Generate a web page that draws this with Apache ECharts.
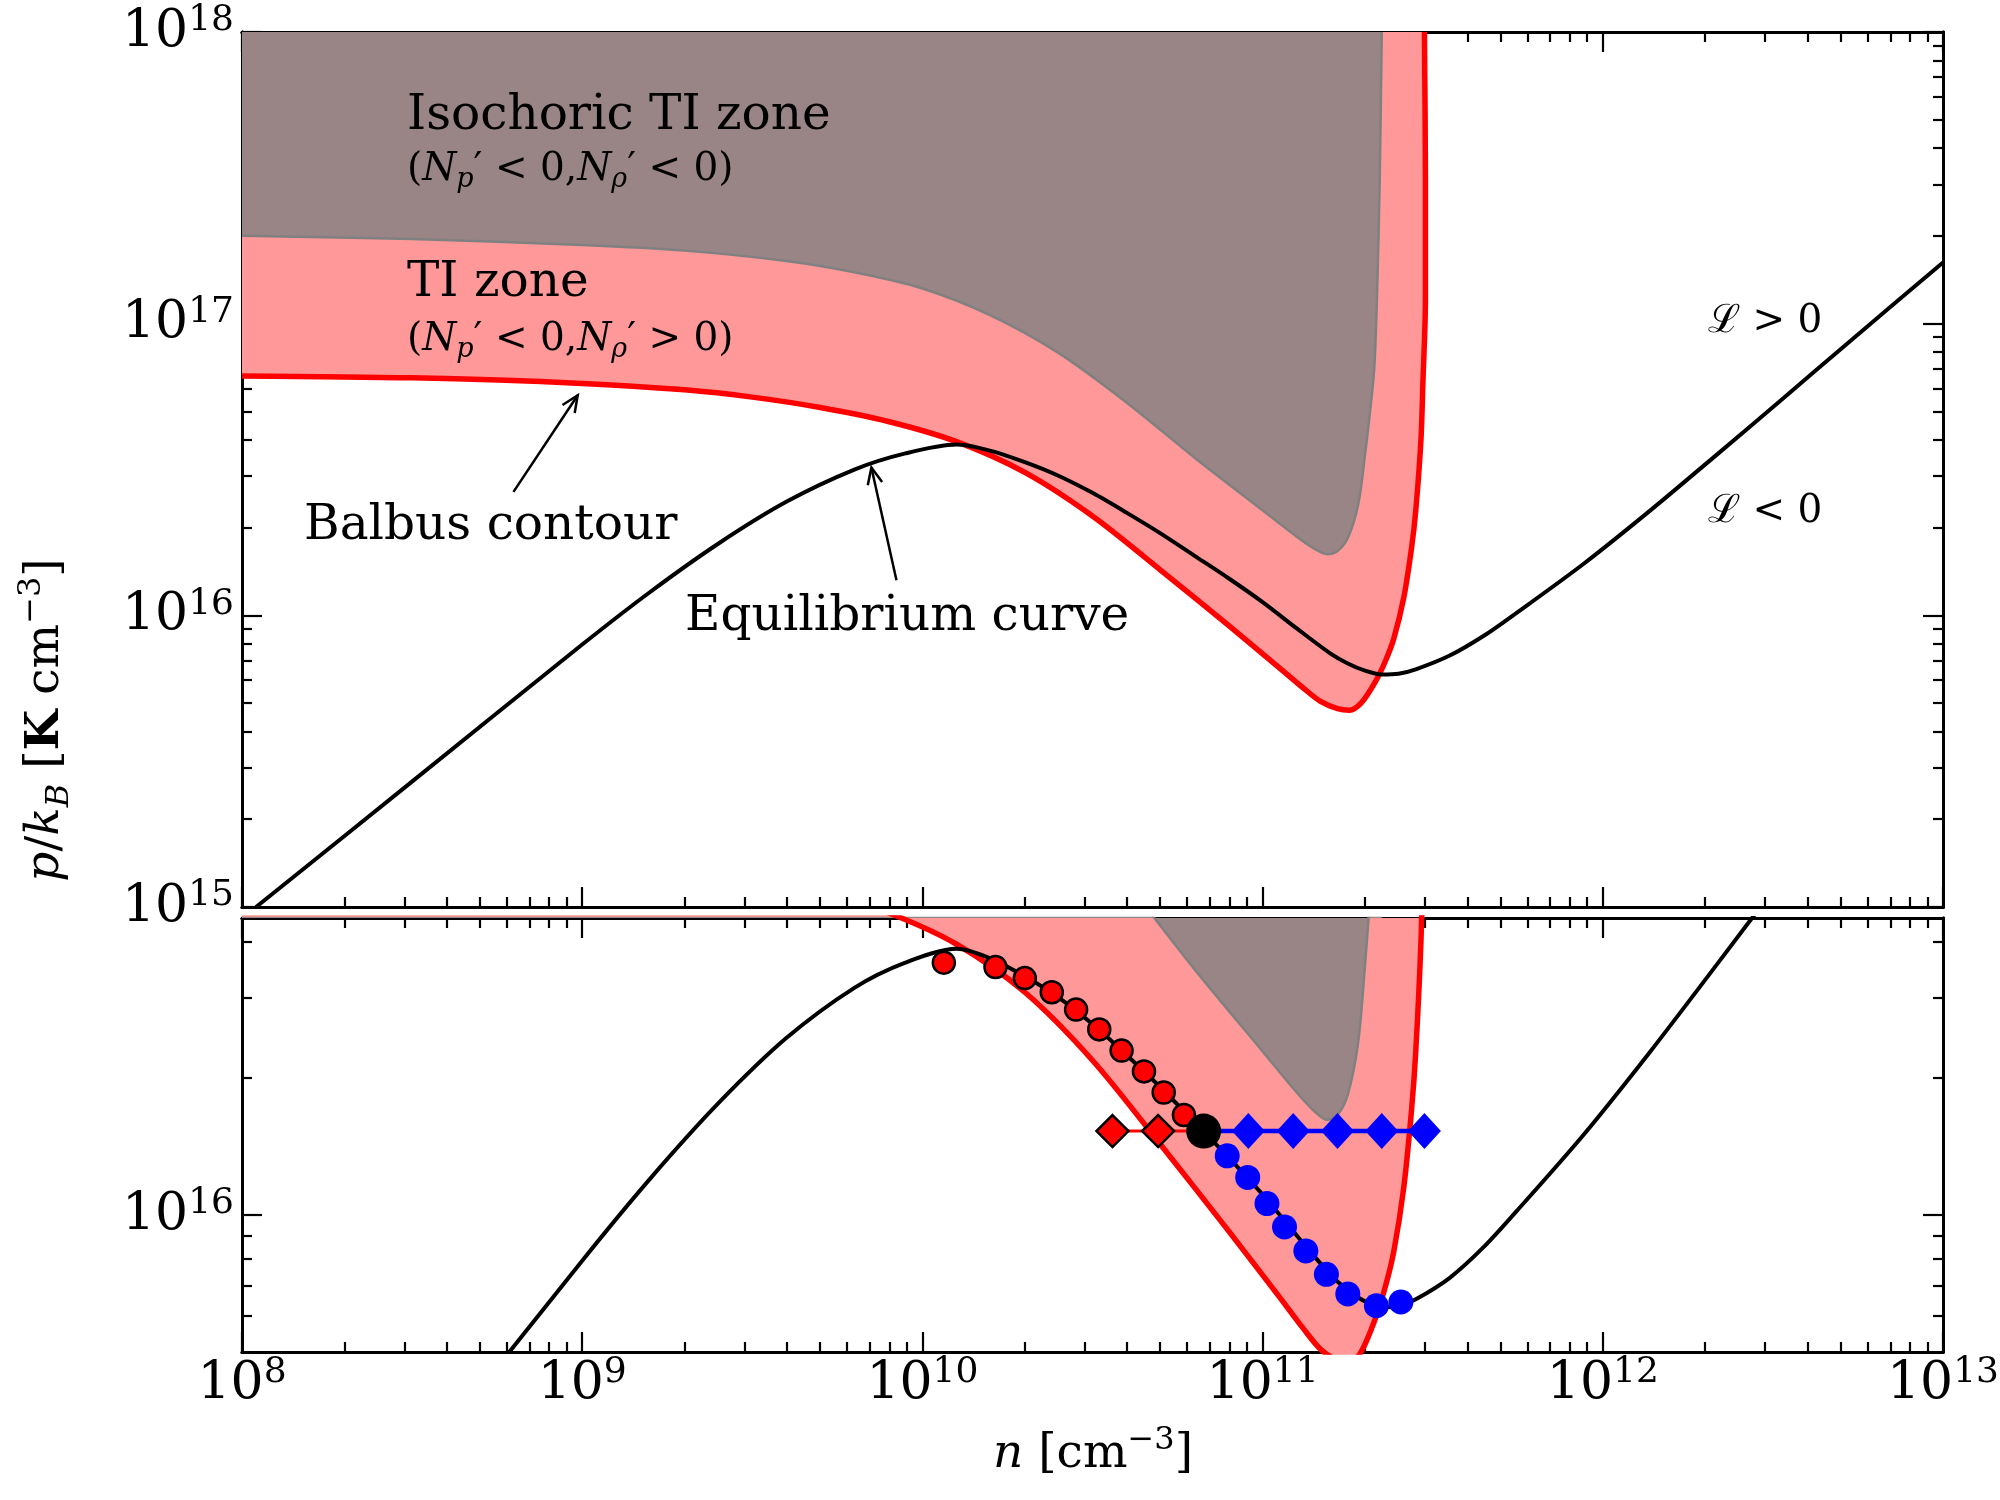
<!DOCTYPE html>
<html>
<head>
<meta charset="utf-8">
<title>TI zones and equilibrium curve</title>
<script src="https://cdn.jsdelivr.net/npm/echarts@6.0.0/dist/echarts.min.js"></script>
<style>
html, body { margin: 0; padding: 0; background: #fff; }
#chart { width: 2000px; height: 1500px; }
</style>
</head>
<body>
<div id="chart"></div>
<script>
// values: n [cm^-3], p/kB [K cm^-3]

// equilibrium curve
var eqN = [1.10e8, 3.16e8, 1.00e9, 1.58e9, 2.51e9, 3.98e9, 6.31e9, 8.91e9, 1.26e10, 1.58e10,
  2.00e10, 2.51e10, 3.16e10, 3.98e10, 5.01e10, 6.31e10, 7.94e10, 1.00e11, 1.26e11, 1.58e11,
  1.78e11, 2.00e11, 2.24e11, 2.51e11, 2.82e11, 3.55e11, 4.47e11, 5.58e11, 8.77e11, 1.38e12,
  2.16e12, 3.40e12, 5.33e12, 1.00e13];
var eqP = [1.00e15, 2.69e15, 7.94e15, 1.20e16, 1.76e16, 2.45e16, 3.16e16, 3.59e16, 3.85e16, 3.67e16,
  3.35e16, 3.01e16, 2.63e16, 2.25e16, 1.91e16, 1.60e16, 1.34e16, 1.11e16, 9.02e15, 7.41e15,
  6.84e15, 6.46e15, 6.27e15, 6.31e15, 6.53e15, 7.28e15, 8.51e15, 1.02e16, 1.50e16, 2.29e16,
  3.55e16, 5.56e16, 8.71e16, 1.62e17];

// Balbus contour (edge of the TI zone)
var balbusN = [1.00e8, 3.16e8, 1.00e9, 2.00e9, 3.16e9, 5.01e9, 7.94e9, 1.26e10, 2.00e10, 3.16e10,
  5.01e10, 7.94e10, 1.12e11, 1.32e11, 1.48e11, 1.66e11, 1.80e11, 1.95e11, 2.14e11, 2.29e11,
  2.43e11, 2.60e11, 2.74e11, 2.82e11, 2.92e11, 2.96e11, 3.01e11, 3.01e11, 2.99e11];
var balbusP = [6.62e16, 6.52e16, 6.24e16, 5.93e16, 5.60e16, 5.16e16, 4.62e16, 3.94e16, 3.09e16, 2.19e16,
  1.43e16, 9.23e15, 6.61e15, 5.62e15, 5.07e15, 4.79e15, 4.73e15, 5.01e15, 5.89e15, 6.92e15,
  8.32e15, 1.15e16, 1.70e16, 2.29e16, 3.98e16, 6.31e16, 1.20e17, 3.16e17, 1.00e18];

// edge of the isochoric TI zone
var isoN = [1.00e8, 3.16e8, 1.00e9, 2.00e9, 3.98e9, 6.31e9, 1.00e10, 1.58e10, 2.51e10, 3.98e10,
  6.31e10, 1.00e11, 1.26e11, 1.41e11, 1.55e11, 1.66e11, 1.78e11, 1.91e11, 2.00e11, 2.07e11,
  2.13e11, 2.17e11, 2.21e11, 2.24e11];
var isoP = [2.00e17, 1.95e17, 1.86e17, 1.78e17, 1.64e17, 1.50e17, 1.32e17, 1.07e17, 7.94e16, 5.37e16,
  3.47e16, 2.29e16, 1.86e16, 1.70e16, 1.62e16, 1.66e16, 1.84e16, 2.40e16, 3.55e16, 5.01e16,
  7.08e16, 1.26e17, 3.16e17, 1.00e18];

// lower panel markers
var redDotN = [1.156e10, 1.64e10, 2.00e10, 2.40e10, 2.83e10, 3.31e10, 3.85e10, 4.48e10, 5.12e10, 5.87e10];
var redDotP = [3.59e16, 3.51e16, 3.32e16, 3.09e16, 2.83e16, 2.56e16, 2.30e16, 2.07e16, 1.86e16, 1.66e16];
var blueDotN = [7.87e10, 9.04e10, 1.03e11, 1.16e11, 1.34e11, 1.54e11, 1.78e11, 2.16e11, 2.55e11];
var blueDotP = [1.35e16, 1.21e16, 1.06e16, 9.42e15, 8.34e15, 7.41e15, 6.71e15, 6.32e15, 6.44e15];
var startN = [6.71e10];
var startP = [1.53e16];
var redDiamondN = [3.62e10, 4.93e10];
var redDiamondP = [1.53e16, 1.53e16];
var blueDiamondN = [9.08e10, 1.23e11, 1.66e11, 2.24e11, 2.99e11];
var blueDiamondP = [1.53e16, 1.53e16, 1.53e16, 1.53e16, 1.53e16];

// annotation arrows: tail n, tail p, tip n, tip p
var arrows = [
  [6.28e8, 2.65e16, 9.70e8, 5.68e16],
  [8.39e9, 1.32e16, 7.08e9, 3.21e16]
];

// ticks
var xMajor = [1e8, 1e9, 1e10, 1e11, 1e12, 1e13];
var yMajorTop = [1e15, 1e16, 1e17, 1e18];
var yMajorBottom = [1e16];
var yMinorBottom = [6e15, 7e15, 8e15, 9e15, 2e16, 3e16, 4e16];
var X_MIN = 1e8, X_MAX = 1e13;
var Y_TOP_MIN = 1e15, Y_TOP_MAX = 1e18;
var Y_BOT_MIN = 5e15, Y_BOT_MAX = 4.5e16;

function minorOf(majors) {
  var out = [];
  for (var i = 0; i < majors.length - 1; i++) {
    for (var k = 2; k <= 9; k++) out.push(k * majors[i]);
  }
  return out;
}
var xMinor = minorOf(xMajor);
var yMinorTop = minorOf(yMajorTop);

function pairs(xs, ys) {
  return xs.map(function (x, i) { return [x, ys[i]]; });
}

var SERIF = '"DejaVu Serif", "Liberation Serif", serif';

var tickRich = {
  b: { fontFamily: SERIF, fontSize: 52, lineHeight: 58, color: '#000' },
  s: { fontFamily: SERIF, fontSize: 36, lineHeight: 24, color: '#000', verticalAlign: 'top' }
};
function tickLabel(v) {
  return '{b|10}{s|' + Math.round(Math.log10(v)) + '}';
}

function axis(grid, pos, min, max, ticks, len, labels, margin) {
  var a = {
    type: 'log', logBase: 10, gridIndex: grid, position: pos, min: min, max: max,
    axisLine: { show: true, onZero: false, lineStyle: { color: '#000', width: 3 } },
    axisTick: { show: true, inside: true, length: len, customValues: ticks,
      lineStyle: { color: '#000', width: 2.2 } },
    axisLabel: { show: false },
    splitLine: { show: false },
    minorTick: { show: false },
    minorSplitLine: { show: false }
  };
  if (labels) {
    a.axisLabel = { show: true, customValues: labels, formatter: tickLabel,
      rich: tickRich, margin: margin, color: '#000' };
  }
  return a;
}

// the top value is nudged a hair so the 10^18 label survives the extent check
var yTopMax = Y_TOP_MAX * 1.000001;

var xAxes = [
  axis(0, 'bottom', X_MIN, X_MAX, xMajor, 20),
  axis(0, 'top', X_MIN, X_MAX, xMajor, 20),
  axis(0, 'bottom', X_MIN, X_MAX, xMinor, 10),
  axis(0, 'top', X_MIN, X_MAX, xMinor, 10),
  axis(1, 'bottom', X_MIN, X_MAX, xMajor, 20, xMajor, 3),
  axis(1, 'top', X_MIN, X_MAX, xMajor, 20),
  axis(1, 'bottom', X_MIN, X_MAX, xMinor, 10),
  axis(1, 'top', X_MIN, X_MAX, xMinor, 10)
];
var yAxes = [
  axis(0, 'left', Y_TOP_MIN, yTopMax, yMajorTop, 20, yMajorTop, 8),
  axis(0, 'right', Y_TOP_MIN, yTopMax, yMajorTop, 20),
  axis(0, 'left', Y_TOP_MIN, yTopMax, yMinorTop, 10),
  axis(0, 'right', Y_TOP_MIN, yTopMax, yMinorTop, 10),
  axis(1, 'left', Y_BOT_MIN, Y_BOT_MAX, yMajorBottom, 20, yMajorBottom, 8),
  axis(1, 'right', Y_BOT_MIN, Y_BOT_MAX, yMajorBottom, 20),
  axis(1, 'left', Y_BOT_MIN, Y_BOT_MAX, yMinorBottom, 10),
  axis(1, 'right', Y_BOT_MIN, Y_BOT_MAX, yMinorBottom, 10)
];

function curve(grid, xs, ys, color, width, fill) {
  var s = {
    type: 'line', xAxisIndex: grid * 4, yAxisIndex: grid * 4, z: 2,
    data: pairs(xs, ys), symbol: 'none', showSymbol: false, smooth: 0.3,
    lineStyle: { color: color, width: width }, clip: true, silent: true
  };
  if (fill) s.areaStyle = { color: fill, opacity: 1, origin: 'end' };
  return s;
}

function dots(xs, ys, symbol, size, color, border) {
  return {
    type: 'scatter', xAxisIndex: 4, yAxisIndex: 4, z: 6, data: pairs(xs, ys),
    symbol: symbol, symbolSize: size, silent: true,
    itemStyle: { color: color, borderColor: '#000', borderWidth: border, opacity: 1 }
  };
}

var series = [];
[0, 1].forEach(function (g) {
  series.push(curve(g, balbusN, balbusP, '#ff0000', 5.5, '#ff9999'));
  series.push(curve(g, isoN, isoP, '#808080', 2.5, '#998585'));
  series.push(curve(g, eqN, eqP, '#000000', 4));
});

// horizontal tracks through the starting point
series.push({
  type: 'line', xAxisIndex: 4, yAxisIndex: 4, z: 4, symbol: 'none', silent: true,
  data: [[redDiamondN[0], redDiamondP[0]], [startN[0], startP[0]]],
  lineStyle: { color: '#ff0000', width: 3 }
});
series.push({
  type: 'line', xAxisIndex: 4, yAxisIndex: 4, z: 4, symbol: 'none', silent: true,
  data: [[startN[0], startP[0]], [blueDiamondN[blueDiamondN.length - 1], blueDiamondP[blueDiamondP.length - 1]]],
  lineStyle: { color: '#0000ff', width: 4.5 }
});
series.push(dots(redDiamondN, redDiamondP, 'diamond', 32, '#ff0000', 2.5));
series.push(dots(blueDiamondN, blueDiamondP, 'diamond', [33, 36], '#0000ff', 0));
series.push(dots(redDotN, redDotP, 'circle', 22, '#ff0000', 2.5));
series.push(dots(blueDotN, blueDotP, 'circle', 25, '#0000ff', 0));
series.push(dots(startN, startP, 'circle', 35, '#000000', 0));

// annotation arrows
series.push({
  type: 'custom', xAxisIndex: 0, yAxisIndex: 0, z: 6, data: arrows, silent: true,
  encode: { x: [0, 2], y: [1, 3] },
  renderItem: function (params, api) {
    var a = api.coord([api.value(0), api.value(1)]);
    var b = api.coord([api.value(2), api.value(3)]);
    var ang = Math.atan2(b[1] - a[1], b[0] - a[0]);
    var h = 18, sp = 0.42;
    var l = [b[0] - h * Math.cos(ang - sp), b[1] - h * Math.sin(ang - sp)];
    var r = [b[0] - h * Math.cos(ang + sp), b[1] - h * Math.sin(ang + sp)];
    return {
      type: 'group',
      children: [
        { type: 'line', shape: { x1: a[0], y1: a[1], x2: b[0], y2: b[1] },
          style: { stroke: '#000', lineWidth: 2.5 } },
        { type: 'polyline', shape: { points: [l, b, r] },
          style: { stroke: '#000', lineWidth: 2.5, fill: null } }
      ]
    };
  }
});

// text
var mathRich = {
  r: { fontFamily: SERIF, fontSize: 39, lineHeight: 46, color: '#000' },
  i: { fontFamily: SERIF, fontStyle: 'italic', fontSize: 39, lineHeight: 46, color: '#000' },
  sub: { fontFamily: SERIF, fontStyle: 'italic', fontSize: 27, lineHeight: 26, verticalAlign: 'bottom', color: '#000' }
};
var labelRich = {
  r: { fontFamily: SERIF, fontSize: 47, lineHeight: 60, color: '#000' },
  i: { fontFamily: SERIF, fontStyle: 'italic', fontSize: 47, lineHeight: 60, color: '#000' },
  b: { fontFamily: SERIF, fontWeight: 'bold', fontSize: 47, lineHeight: 60, color: '#000' },
  sub: { fontFamily: SERIF, fontStyle: 'italic', fontSize: 32, lineHeight: 32, verticalAlign: 'bottom', color: '#000' },
  sup: { fontFamily: SERIF, fontSize: 32, lineHeight: 28, verticalAlign: 'top', color: '#000' }
};

function plain(x, y, text, size) {
  return { type: 'text', x: x, y: y, z: 100, silent: true,
    style: { text: text, fill: '#000', font: size + 'px ' + SERIF, align: 'left', verticalAlign: 'middle' } };
}
function rich(x, y, text, richStyle, align, rotation) {
  return { type: 'text', x: x, y: y, z: 100, silent: true, rotation: rotation || 0,
    style: { text: text, rich: richStyle, align: align || 'left', verticalAlign: 'middle' } };
}

var graphics = [
  plain(407, 116, 'Isochoric TI zone', 48.5),
  rich(407, 170, '{r|(}{i|N}{sub|p}{r|′ < 0,}{i|N}{sub|ρ}{r|′ < 0)}', mathRich),
  plain(407, 283, 'TI zone', 48.5),
  rich(407, 340, '{r|(}{i|N}{sub|p}{r|′ < 0,}{i|N}{sub|ρ}{r|′ > 0)}', mathRich),
  plain(304, 526, 'Balbus contour', 48.5),
  plain(685, 617, 'Equilibrium curve', 48.5),
  plain(1708, 322, 'ℒ > 0', 39),
  plain(1708, 512, 'ℒ < 0', 39),
  rich(1093, 1455, '{i|n}{r| [cm}{sup|−3}{r|]}', labelRich, 'center'),
  rich(46, 720, '{i|p}{r|/}{i|k}{sub|B}{r| [}{b|K}{r| cm}{sup|−3}{r|]}', labelRich, 'center', Math.PI / 2)
];

var chart = echarts.init(document.getElementById('chart'));
chart.setOption({
  animation: false,
  backgroundColor: '#ffffff',
  grid: [
    { left: 242, top: 32, width: 1701, height: 875, outerBoundsMode: 'none', containLabel: false },
    { left: 242, top: 918, width: 1701, height: 434, outerBoundsMode: 'none', containLabel: false }
  ],
  xAxis: xAxes,
  yAxis: yAxes,
  series: series,
  graphic: graphics
});
</script>
</body>
</html>
